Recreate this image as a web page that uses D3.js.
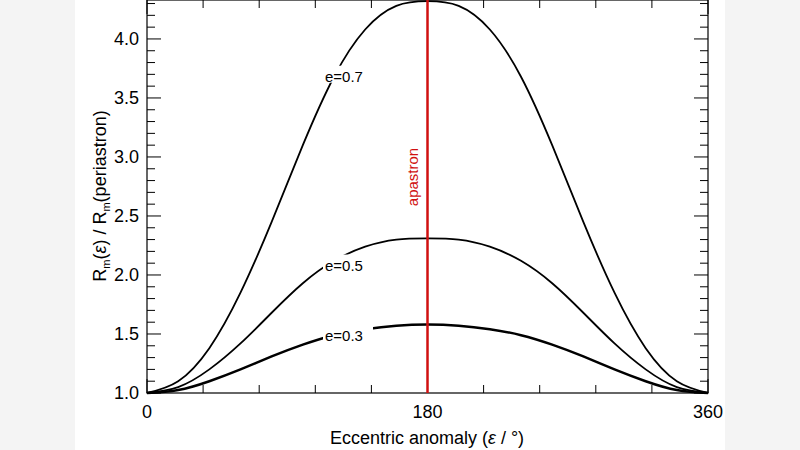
<!DOCTYPE html><html><head><script src="https://cdn.jsdelivr.net/npm/d3@7"></script>
<style>body{margin:0;background:#fff}</style></head><body><svg id="c" width="800" height="450"></svg><script>
const angles=[0,20,40,60,80,100,120,140,160,180,200,220,240,260,280,300,320,340,360];
const e07=[1.0,1.1,1.38,1.85,2.45,3.1,3.68,4.08,4.28,4.32,4.28,4.08,3.68,3.1,2.45,1.85,1.38,1.1,1.0];
const e05=[1.0,1.05,1.2,1.42,1.68,1.93,2.12,2.24,2.3,2.31,2.3,2.24,2.12,1.93,1.68,1.42,1.2,1.05,1.0];
const e03=[1.0,1.025,1.1,1.2,1.31,1.41,1.49,1.54,1.57,1.58,1.57,1.54,1.49,1.41,1.31,1.2,1.1,1.025,1.0];
const xTicks=[0,180,360], yTicks=[1.0,1.5,2.0,2.5,3.0,3.5,4.0];
const svg=d3.select("#c");
svg.append("rect").attr("width",75).attr("height",450).attr("fill","#f4f4f4");
svg.append("rect").attr("x",725).attr("width",75).attr("height",450).attr("fill","#f4f4f4");
const x=d3.scaleLinear().domain([0,360]).range([147,708]);
const y=d3.scaleLinear().domain([1,4.33]).range([393,0]);
const g=svg.append("g");
const ax=d3.range(0,361,36), ay=d3.range(10,44,1).map(v=>v/10);
ax.forEach(v=>{const L=(v%180===0)?14:8;
 g.append("line").attr("x1",x(v)).attr("x2",x(v)).attr("y1",393).attr("y2",393-L).attr("stroke","#000");
 g.append("line").attr("x1",x(v)).attr("x2",x(v)).attr("y1",0).attr("y2",L).attr("stroke","#000");});
ay.forEach(v=>{const L=(Math.round(v*10)%5===0)?14:8;
 g.append("line").attr("x1",147).attr("x2",147+L).attr("y1",y(v)).attr("y2",y(v)).attr("stroke","#000");
 g.append("line").attr("x1",708).attr("x2",708-L).attr("y1",y(v)).attr("y2",y(v)).attr("stroke","#000");});
g.append("rect").attr("x",147).attr("y",0).attr("width",561).attr("height",393).attr("fill","none").attr("stroke","#000").attr("stroke-width",1.2);
const f="Liberation Sans, Arial, sans-serif";
xTicks.forEach(v=>g.append("text").attr("x",x(v)).attr("y",418).attr("text-anchor","middle").attr("font-family",f).attr("font-size",18).text(v));
yTicks.forEach(v=>g.append("text").attr("x",139).attr("y",y(v)+6).attr("text-anchor","end").attr("font-family",f).attr("font-size",18).text(v.toFixed(1)));
g.append("text").attr("x",427).attr("y",444).attr("text-anchor","middle").attr("font-family",f).attr("font-size",18).html('Eccentric anomaly (<tspan font-style="italic">ε</tspan> / °)');
g.append("text").attr("transform","translate(106,196) rotate(-90)").attr("text-anchor","middle").attr("font-family",f).attr("font-size",18)
 .html('R<tspan font-size="11" dy="4">m</tspan><tspan dy="-4">(</tspan><tspan font-style="italic">ε</tspan>) / R<tspan font-size="11" dy="4">m</tspan><tspan dy="-4">(periastron)</tspan>');
const line=d3.line().x((d,i)=>x(angles[i])).y(d=>y(d)).curve(d3.curveNatural);
[[e07,1.8],[e05,1.8],[e03,2.5]].forEach(([s,w])=>g.append("path").attr("d",line(s)).attr("fill","none").attr("stroke","#000").attr("stroke-width",w));
g.append("line").attr("x1",x(180)).attr("x2",x(180)).attr("y1",0).attr("y2",393).attr("stroke","#d01010").attr("stroke-width",2.5);
g.append("text").attr("transform",`translate(${x(180)-10},177) rotate(-90)`).attr("text-anchor","middle").attr("font-family",f).attr("font-size",15).attr("fill","#d01010").text("apastron");
[["e=0.7",3.68],["e=0.5",2.08],["e=0.3",1.48]].forEach(([t,v])=>{
 g.append("rect").attr("x",323).attr("y",y(v)-11).attr("width",50).attr("height",17).attr("fill","#fff");
 g.append("text").attr("x",325).attr("y",y(v)+5).attr("font-family",f).attr("font-size",15).text(t);});
</script></body></html>
